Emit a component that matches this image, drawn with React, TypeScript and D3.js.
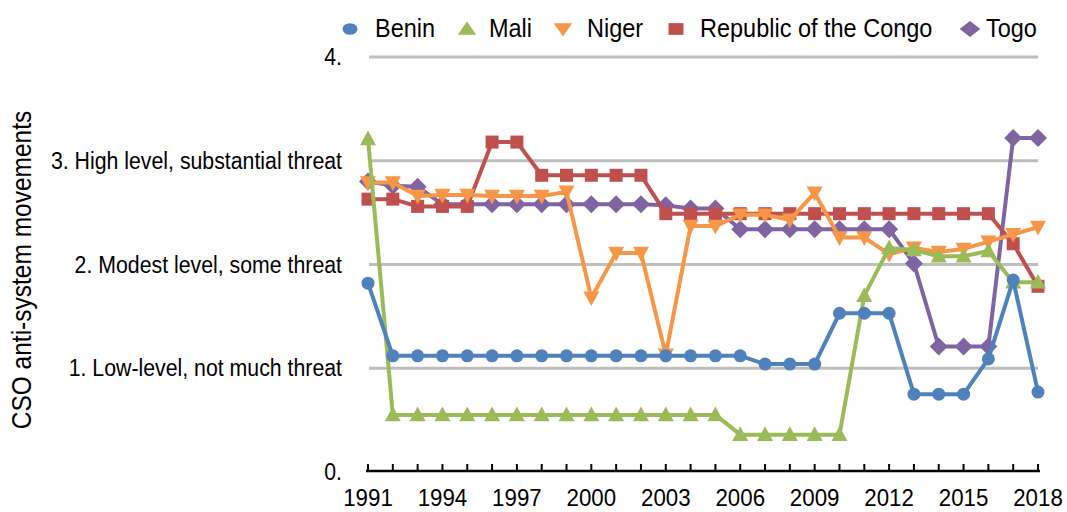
import React from "react";
import * as d3 from "d3";

const years: number[] = d3.range(1991, 2019);
const tickYears: number[] = [1991, 1994, 1997, 2000, 2003, 2006, 2009, 2012, 2015, 2018];
const yTicks: number[] = [0, 1, 2, 3, 4];
const yTickLabels: string[] = ["0.", "1. Low-level, not much threat", "2. Modest level, some threat", "3. High level, substantial threat", "4."];

const benin: number[] = [1.82, 1.12, 1.12, 1.12, 1.12, 1.12, 1.12, 1.12, 1.12, 1.12, 1.12, 1.12, 1.12, 1.12, 1.12, 1.12, 1.04, 1.04, 1.04, 1.53, 1.53, 1.53, 0.75, 0.75, 0.75, 1.09, 1.85, 0.77];
const mali: number[] = [3.21, 0.55, 0.55, 0.55, 0.55, 0.55, 0.55, 0.55, 0.55, 0.55, 0.55, 0.55, 0.55, 0.55, 0.55, 0.36, 0.36, 0.36, 0.36, 0.36, 1.7, 2.16, 2.14, 2.08, 2.08, 2.13, 1.83, 1.83];
const niger: number[] = [2.79, 2.79, 2.66, 2.67, 2.67, 2.66, 2.66, 2.66, 2.7, 1.68, 2.11, 2.11, 1.13, 2.37, 2.37, 2.48, 2.48, 2.43, 2.69, 2.26, 2.26, 2.1, 2.16, 2.12, 2.15, 2.22, 2.29, 2.36];
const congo: number[] = [2.63, 2.63, 2.56, 2.56, 2.56, 3.18, 3.18, 2.86, 2.86, 2.86, 2.86, 2.86, 2.49, 2.49, 2.49, 2.49, 2.49, 2.49, 2.49, 2.49, 2.49, 2.49, 2.49, 2.49, 2.49, 2.49, 2.2, 1.79];
const togo: number[] = [2.8, 2.76, 2.75, 2.58, 2.58, 2.58, 2.58, 2.58, 2.58, 2.58, 2.58, 2.58, 2.57, 2.54, 2.54, 2.34, 2.34, 2.34, 2.34, 2.34, 2.34, 2.34, 2.01, 1.21, 1.21, 1.21, 3.22, 3.22];

const seriesNames: string[] = ["Benin", "Mali", "Niger", "Republic of the Congo", "Togo"];
const seriesColors: string[] = ["#4F81BD", "#9BBB59", "#F79646", "#C0504D", "#8064A2"];
const seriesValues: number[][] = [benin, mali, niger, congo, togo];
const seriesShapes: string[] = ["circle", "triangle", "invtriangle", "square", "diamond"];

const W = 1067;
const H = 512;
const FONT = "'Liberation Sans', Arial, Helvetica, sans-serif";

const x = d3.scaleLinear().domain([1991, 2018]).range([368, 1038]);
const y = d3.scaleLinear().domain([0, 4]).range([472, 57]);

function Marker({ shape, cx, cy, color, sx = 1, sy = 1 }: { shape: string; cx: number; cy: number; color: string; sx?: number; sy?: number }) {
  if (shape === "circle") return <ellipse cx={cx} cy={cy} rx={6.5 * sx} ry={6.5 * sy} fill={color} />;
  if (shape === "square") return <rect x={cx - 6.5 * sx} y={cy - 6.5 * sy} width={13 * sx} height={13 * sy} fill={color} />;
  if (shape === "triangle") {
    const h = 14 * sy, w = 16 * sx;
    return <path d={`M${cx},${cy - h * 0.6}L${cx + w / 2},${cy + h * 0.45}L${cx - w / 2},${cy + h * 0.45}Z`} fill={color} />;
  }
  if (shape === "invtriangle") {
    const h = 14 * sy, w = 16 * sx;
    return <path d={`M${cx},${cy + h * 0.6}L${cx + w / 2},${cy - h * 0.45}L${cx - w / 2},${cy - h * 0.45}Z`} fill={color} />;
  }
  const rx = 9 * sx, ry = 9 * sy;
  return <path d={`M${cx},${cy - ry}L${cx + rx},${cy}L${cx},${cy + ry}L${cx - rx},${cy}Z`} fill={color} />;
}

const legendMarkerX: number[] = [350, 467, 563, 676, 970];
const legendTextX: number[] = [375, 489, 587, 700, 986];

function SText({ x: tx, y: ty, size, anchor = "start", children }: { x: number; y: number; size: number; anchor?: string; children: React.ReactNode }) {
  return (
    <g transform={`translate(${tx},${ty}) scale(1,1.1)`}>
      <text x={0} y={0} textAnchor={anchor as any} fontSize={size} fill="#000">
        {children}
      </text>
    </g>
  );
}

export default function App() {
  const line = d3.line<number>().x((_, i) => x(years[i])).y((v) => y(v));
  const order = [4, 3, 2, 1, 0];
  return (
    <svg width={W} height={H} style={{ position: "absolute", left: 0, top: 0, background: "#fff" }} fontFamily={FONT}>
      {yTicks.filter((t) => t > 0).map((t) => (
        <line key={t} x1={369} x2={1038} y1={y(t)} y2={y(t)} stroke="#BEBEBE" strokeWidth={3} />
      ))}
      {yTicks.map((t, i) => (
        <SText key={t} x={342} y={y(t) + 8} size={21.3} anchor="end">
          {yTickLabels[i]}
        </SText>
      ))}
      <g transform="translate(31,270) rotate(-90) scale(1,1.1)">
        <text x={0} y={0} textAnchor="middle" fontSize={24.5} fill="#000">
          CSO anti-system movements
        </text>
      </g>
      <line x1={366} x2={1040} y1={471} y2={471} stroke="#000" strokeWidth={2.5} />
      {years.map((yr) => (
        <line key={yr} x1={x(yr)} x2={x(yr)} y1={471} y2={464} stroke="#000" strokeWidth={2} />
      ))}
      {tickYears.map((yr) => (
        <SText key={yr} x={x(yr)} y={506} size={22.3} anchor="middle">
          {yr}
        </SText>
      ))}
      {order.map((si) => (
        <g key={si}>
          <path d={line(seriesValues[si]) ?? ""} fill="none" stroke={seriesColors[si]} strokeWidth={4} strokeLinejoin="round" />
          {seriesValues[si].map((v, i) => (
            <Marker key={i} shape={seriesShapes[si]} cx={x(years[i])} cy={y(v)} color={seriesColors[si]} />
          ))}
        </g>
      ))}
      {seriesNames.map((n, i) => (
        <g key={n}>
          <Marker shape={seriesShapes[i]} cx={legendMarkerX[i]} cy={29} color={seriesColors[i]} sx={1.15} sy={0.9} />
          <SText x={legendTextX[i]} y={37} size={23.5}>
            {n}
          </SText>
        </g>
      ))}
    </svg>
  );
}
